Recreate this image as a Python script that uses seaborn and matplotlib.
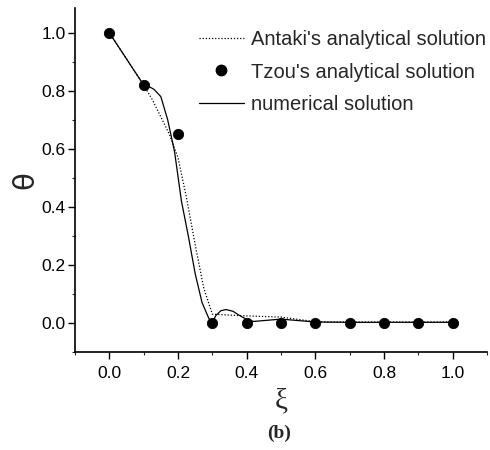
import matplotlib
matplotlib.use("Agg")
import matplotlib.pyplot as plt
import seaborn as sns
import pandas as pd
from matplotlib.ticker import MultipleLocator
from matplotlib.lines import Line2D

# Tzou's analytical solution (points)
xi_tzou = [0.0, 0.1, 0.2, 0.3, 0.4, 0.5, 0.6, 0.7, 0.8, 0.9, 1.0]
theta_tzou = [1.0, 0.82, 0.65, 0.0, 0.0, 0.0, 0.0, 0.0, 0.0, 0.0, 0.0]

# Antaki's analytical solution (dotted)
xi_antaki = [0.0, 0.05, 0.1, 0.125, 0.15, 0.175, 0.2, 0.225, 0.25, 0.275, 0.3,
             0.35, 0.4, 0.5, 0.6, 0.7, 0.8, 0.9, 1.0]
theta_antaki = [1.0, 0.91, 0.82, 0.77, 0.71, 0.65, 0.57, 0.43, 0.27, 0.12, 0.03,
                0.027, 0.024, 0.02, 0.004, 0.003, 0.003, 0.003, 0.003]

# Numerical solution (solid)
xi_num = [0.0, 0.05, 0.1, 0.115, 0.13, 0.15, 0.17, 0.19, 0.21, 0.23, 0.25, 0.27,
          0.29, 0.3, 0.31, 0.325, 0.34, 0.36, 0.38, 0.4, 0.42, 0.46, 0.5, 0.55,
          0.6, 0.7, 0.8, 0.9, 1.0]
theta_num = [1.0, 0.91, 0.82, 0.815, 0.805, 0.78, 0.70, 0.59, 0.42, 0.30, 0.17, 0.07,
             0.015, 0.0, 0.025, 0.042, 0.046, 0.04, 0.025, 0.012, 0.005, 0.009, 0.013,
             0.008, 0.003, 0.002, 0.002, 0.002, 0.002]

x_ticks = [0.0, 0.2, 0.4, 0.6, 0.8, 1.0]
y_ticks = [0.0, 0.2, 0.4, 0.6, 0.8, 1.0]

sns.set_style("ticks")
plt.rcParams['font.family'] = ['Liberation Sans', 'DejaVu Sans']

fig = plt.figure(figsize=(4.9, 4.5), dpi=100)
ax = fig.add_axes([0.153, 0.218, 0.841, 0.764])

df_a = pd.DataFrame({"xi": xi_antaki, "theta": theta_antaki})
df_n = pd.DataFrame({"xi": xi_num, "theta": theta_num})
df_t = pd.DataFrame({"xi": xi_tzou, "theta": theta_tzou})

sns.lineplot(data=df_a, x="xi", y="theta", ax=ax, color="black", lw=0.9,
             linestyle=(0, (1, 1.5)), sort=False)
sns.lineplot(data=df_n, x="xi", y="theta", ax=ax, color="black", lw=0.9, sort=False)
sns.scatterplot(data=df_t, x="xi", y="theta", ax=ax, color="black", s=55,
                edgecolor="black", zorder=5)

ax.set_xlim(-0.1, 1.1)
ax.set_ylim(-0.1, 1.085)
ax.set_xticks(x_ticks)
ax.set_yticks(y_ticks)
ax.set_xticklabels([f"{v:.1f}" for v in x_ticks])
ax.set_yticklabels([f"{v:.1f}" for v in y_ticks])
ax.xaxis.set_minor_locator(MultipleLocator(0.1))
ax.yaxis.set_minor_locator(MultipleLocator(0.1))
ax.tick_params(which="major", direction="out", length=5, width=1, labelsize=12.5,
               colors="black", pad=1.5)
ax.tick_params(axis="x", which="major", pad=5.5)
ax.tick_params(which="minor", direction="out", length=2.5, width=0.8)
for s in ["top", "right"]:
    ax.spines[s].set_visible(False)
for s in ["left", "bottom"]:
    ax.spines[s].set_linewidth(1.2)
    ax.spines[s].set_color("black")

ax.set_xlabel("ξ", fontsize=21, family=["Liberation Serif", "DejaVu Serif"], labelpad=5)
ax.set_ylabel("θ", fontsize=21, family=["DejaVu Sans"], labelpad=2)

handles = [
    Line2D([], [], color="black", lw=0.9, linestyle=(0, (1, 1.5))),
    Line2D([], [], color="black", marker="o", linestyle="none", markersize=7.5),
    Line2D([], [], color="black", lw=0.9),
]
labels = ["Antaki's analytical solution", "Tzou's analytical solution",
          "numerical solution"]
ax.legend(handles, labels, loc="upper left", bbox_to_anchor=(0.30, 0.935),
          frameon=False, fontsize=14.5, handlelength=2.25, handletextpad=0.35,
          labelspacing=0.65, borderaxespad=0, borderpad=0)

fig.text(0.569, 0.038, "(b)", ha="center", va="center", fontsize=14,
         fontweight="bold", family=["Liberation Serif", "DejaVu Serif"])

fig.savefig("out.png", dpi=100)
